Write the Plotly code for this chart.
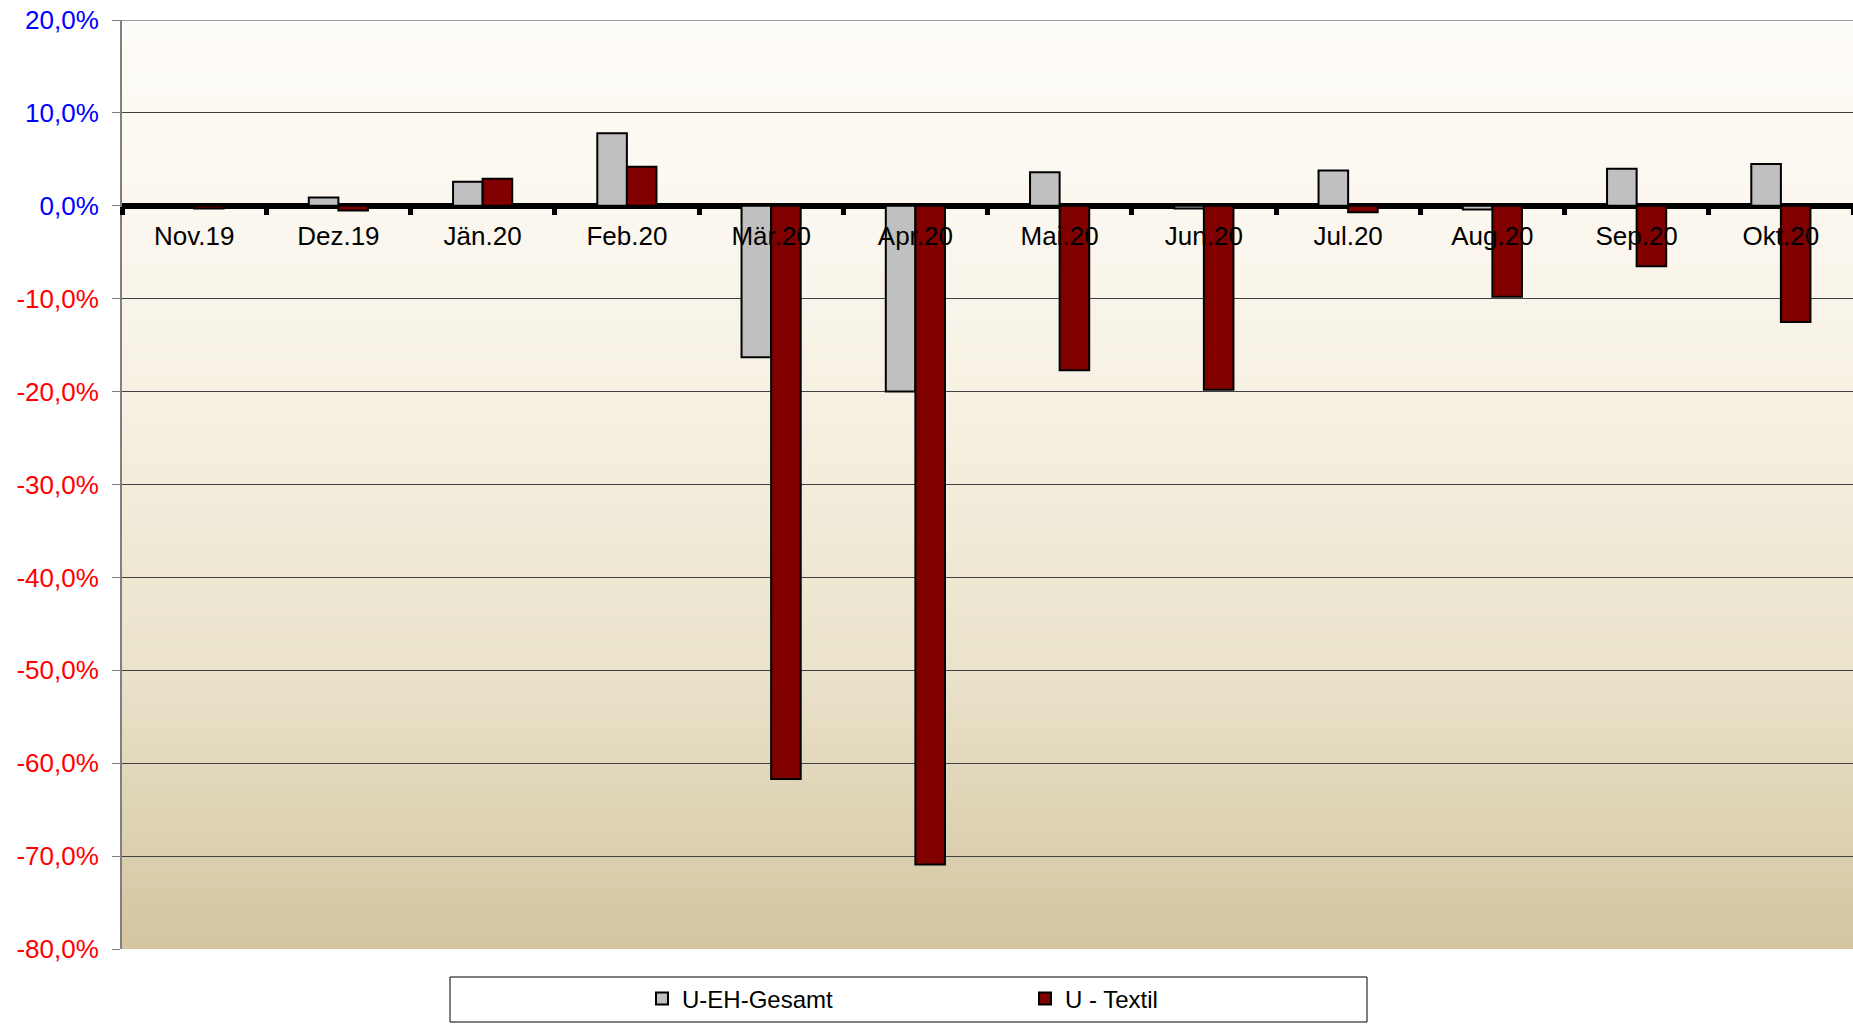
import plotly.graph_objects as go

categories = ["Nov.19", "Dez.19", "Jän.20", "Feb.20", "Mär.20", "Apr.20",
              "Mai.20", "Jun.20", "Jul.20", "Aug.20", "Sep.20", "Okt.20"]
u_eh_gesamt = [0.1, 0.9, 2.6, 7.8, -16.3, -20.0, 3.6, -0.3, 3.8, -0.4, 4.0, 4.5]
u_textil = [-0.3, -0.5, 2.9, 4.2, -61.7, -70.9, -17.7, -19.8, -0.7, -9.8, -6.5, -12.5]
series_names = ["U-EH-Gesamt", "U - Textil"]
y_tickvals = [20, 10, 0, -10, -20, -30, -40, -50, -60, -70, -80]
y_ticktext = ["20,0%", "10,0%", "0,0%", "-10,0%", "-20,0%", "-30,0%",
              "-40,0%", "-50,0%", "-60,0%", "-70,0%", "-80,0%"]
y_min, y_max = -80, 20

# page body margin is removed via post_script, so the figure fills the window
W, H = 1853, 1025
L, R, T, B = 122, 0, 20, 76
PW, PH = W - L - R, H - T - B

fig = go.Figure()
fig.add_bar(x=categories, y=u_eh_gesamt, name=series_names[0],
            marker=dict(color="#C0C0C0", line=dict(color="black", width=2)))
fig.add_bar(x=categories, y=u_textil, name=series_names[1],
            marker=dict(color="#800000", line=dict(color="black", width=2)))

# vertical gradient background (styling only)
stops = [(0.0, (0xD3, 0xC6, 0xA0)), (0.08, (0xD9, 0xCD, 0xAB)), (0.3, (0xEA, 0xE2, 0xCA)),
         (0.55, (0xF5, 0xEF, 0xE0)), (0.8, (0xFC, 0xF8, 0xF0)), (1.0, (0xFE, 0xFC, 0xF8))]

def col(f):
    for (a, ca), (b, cb) in zip(stops[:-1], stops[1:]):
        if a <= f <= b:
            t = (f - a) / (b - a)
            return "rgb(%d,%d,%d)" % tuple(round(ca[i] + (cb[i] - ca[i]) * t) for i in range(3))
    return "rgb(%d,%d,%d)" % stops[-1][1]

shapes = []
N = 120
for i in range(N):
    y0 = i / N
    y1 = (i + 1) / N
    shapes.append(dict(type="rect", xref="paper", yref="paper", x0=0, x1=1, y0=y0, y1=min(1, y1 + 0.002),
                       fillcolor=col((y0 + y1) / 2), line=dict(width=0), layer="below"))
# top gridline at the upper range limit
shapes.append(dict(type="line", xref="paper", yref="y", x0=0, x1=1, y0=y_max, y1=y_max,
                   line=dict(color="#404040", width=1), layer="below"))

def px_x(page_x):
    return (page_x - L) / PW

def px_y(page_y):
    return ((T + PH) - page_y) / PH

# legend frame
shapes.append(dict(type="rect", xref="paper", yref="paper",
                   x0=px_x(450), x1=px_x(1367), y0=px_y(1022), y1=px_y(977),
                   line=dict(color="black", width=1), fillcolor="white", layer="below"))

ticktext_col = [("<span style='color:#0000FF'>%s</span>" % t) if v >= 0 else
                ("<span style='color:#FF0000'>%s</span>" % t) for v, t in zip(y_tickvals, y_ticktext)]

fig.update_layout(
    width=W, height=H,
    margin=dict(l=L, r=R, t=T, b=B, pad=0, autoexpand=False),
    paper_bgcolor="white",
    plot_bgcolor="rgba(0,0,0,0)",
    barmode="group",
    bargap=0.59,
    bargroupgap=0,
    font=dict(family="Liberation Sans, Arial, sans-serif", size=24, color="black"),
    showlegend=True,
    legend=dict(orientation="h", x=px_x(642), xanchor="left",
                y=px_y(999), yanchor="middle",
                bgcolor="rgba(0,0,0,0)", borderwidth=0, entrywidth=338,
                font=dict(size=24), itemwidth=30, traceorder="normal"),
    shapes=shapes,
)

fig.update_xaxes(
    type="category", anchor="free", position=0.8, showgrid=False,
    showline=False, ticks="outside", tickson="boundaries", ticklen=8, tickwidth=5,
    tickcolor="black", layer="above traces", tickfont=dict(size=26, color="black"),
    ticklabelstandoff=12, automargin=False,
    range=[-0.5, 11.5],
)
fig.update_yaxes(
    range=[y_min, y_max], tickvals=y_tickvals, ticktext=ticktext_col,
    showgrid=True, gridcolor="#404040", gridwidth=1,
    zeroline=True, zerolinecolor="black", zerolinewidth=6,
    showline=True, linecolor="#808080", linewidth=2,
    ticks="outside", ticklen=8, tickcolor="#808080", tickwidth=1,
    ticklabelstandoff=8, tickfont=dict(size=26), ticklabeloverflow="allow",
    automargin=False,
)

fig.write_html("out.html",
               config={"displayModeBar": False},
               post_script="document.body.style.margin='0';document.body.style.overflow='hidden';")
